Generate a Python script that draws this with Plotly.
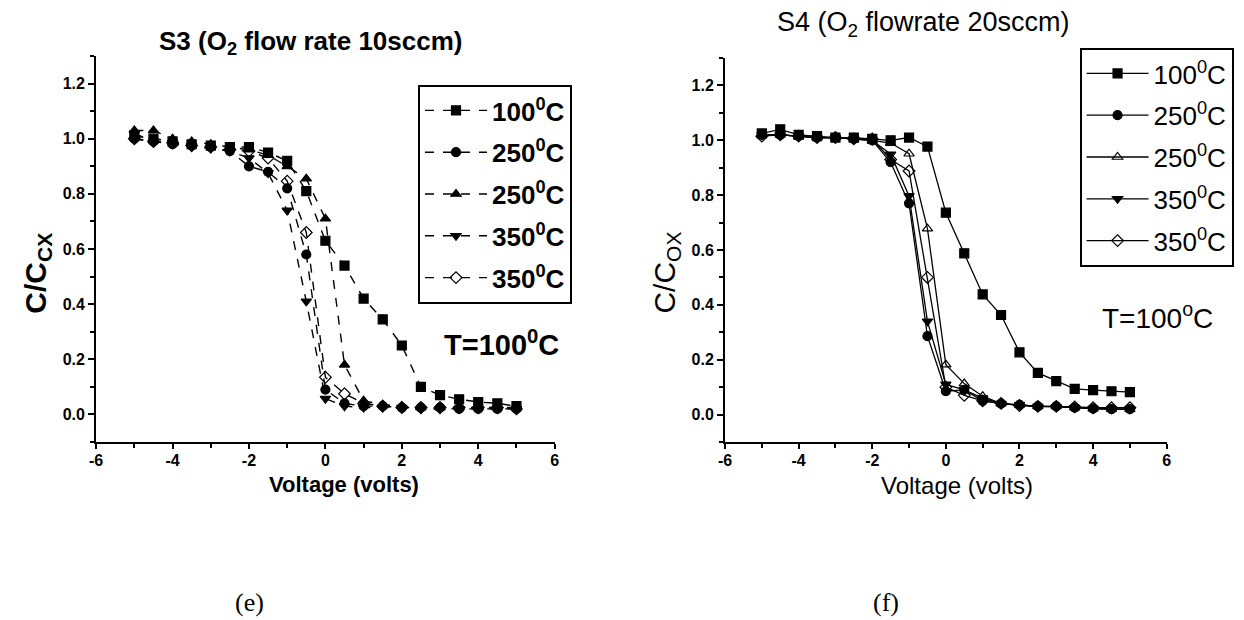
import plotly.graph_objects as go

voltage = [-5, -4.5, -4, -3.5, -3, -2.5, -2, -1.5, -1, -0.5, 0, 0.5, 1, 1.5, 2, 2.5, 3, 3.5, 4, 4.5, 5]

# Panel (e): S3, O2 flow rate 10 sccm
s3_100 = [1.01, 1.00, 0.99, 0.98, 0.975, 0.97, 0.97, 0.95, 0.92, 0.81, 0.63, 0.54, 0.42, 0.345, 0.25, 0.10, 0.07, 0.055, 0.045, 0.04, 0.03]
s3_250a = [1.00, 0.99, 0.98, 0.975, 0.97, 0.955, 0.90, 0.88, 0.82, 0.58, 0.09, 0.04, 0.03, 0.03, 0.025, 0.025, 0.025, 0.02, 0.02, 0.02, 0.02]
s3_250b = [1.03, 1.03, 1.00, 0.99, 0.98, 0.97, 0.96, 0.94, 0.90, 0.855, 0.71, 0.18, 0.05, 0.035, 0.03, 0.025, 0.025, 0.025, 0.025, 0.025, 0.025]
s3_350a = [1.02, 0.99, 0.98, 0.97, 0.965, 0.955, 0.93, 0.876, 0.74, 0.41, 0.057, 0.03, 0.025, 0.025, 0.025, 0.02, 0.02, 0.02, 0.02, 0.02, 0.02]
s3_350b = [1.00, 0.99, 0.985, 0.975, 0.97, 0.96, 0.955, 0.93, 0.846, 0.66, 0.135, 0.075, 0.04, 0.03, 0.025, 0.025, 0.025, 0.025, 0.025, 0.025, 0.02]

# Panel (f): S4, O2 flowrate 20 sccm
s4_100 = [1.025, 1.04, 1.02, 1.015, 1.01, 1.01, 1.005, 1.0, 1.01, 0.977, 0.736, 0.588, 0.438, 0.363, 0.227, 0.152, 0.122, 0.094, 0.089, 0.085, 0.082]
s4_250a = [1.02, 1.02, 1.015, 1.01, 1.01, 1.005, 1.0, 0.92, 0.77, 0.286, 0.085, 0.09, 0.05, 0.04, 0.035, 0.03, 0.03, 0.025, 0.022, 0.02, 0.02]
s4_250b = [1.02, 1.02, 1.015, 1.01, 1.01, 1.005, 1.0, 0.99, 0.951, 0.678, 0.182, 0.113, 0.067, 0.04, 0.035, 0.03, 0.03, 0.025, 0.022, 0.02, 0.02]
s4_350a = [1.02, 1.02, 1.015, 1.01, 1.01, 1.005, 1.0, 0.949, 0.797, 0.34, 0.11, 0.09, 0.06, 0.04, 0.035, 0.03, 0.028, 0.025, 0.022, 0.02, 0.02]
s4_350b = [1.015, 1.02, 1.015, 1.01, 1.01, 1.005, 1.005, 0.93, 0.888, 0.50, 0.10, 0.07, 0.05, 0.041, 0.033, 0.03, 0.03, 0.028, 0.025, 0.025, 0.025]

legend_names = ["100<sup>0</sup>C", "250<sup>0</sup>C", "250<sup>0</sup>C", "350<sup>0</sup>C", "350<sup>0</sup>C"]
x_ticks = [-6, -4, -2, 0, 2, 4, 6]
x_ticklabels = ["-6", "-4", "-2", "0", "2", "4", "6"]
y_ticks = [0, 0.2, 0.4, 0.6, 0.8, 1.0, 1.2]
y_ticklabels = ["0.0", "0.2", "0.4", "0.6", "0.8", "1.0", "1.2"]

left_series = [s3_100, s3_250a, s3_250b, s3_350a, s3_350b]
right_series = [s4_100, s4_250a, s4_250b, s4_350a, s4_350b]
left_symbols = ["square", "circle", "triangle-up", "triangle-down", "diamond-open"]
right_symbols = ["square", "circle", "triangle-up-open", "triangle-down", "diamond-open"]

W, H = 1244, 620
def px(x):
    return x / W
def py(y):
    return 1 - y / H

FONT = "Liberation Sans, Arial, sans-serif"
fig = go.Figure()

for i, (ys, sym, name) in enumerate(zip(left_series, left_symbols, legend_names)):
    fig.add_trace(go.Scatter(
        x=voltage, y=ys, name="<b>" + name + "</b>", mode="lines+markers",
        line=dict(color="black", width=1.4, dash="dash"),
        marker=dict(symbol=sym, size=9, color="black", line=dict(color="black", width=1.2)),
        xaxis="x", yaxis="y", legend="legend", legendgroup="L%d" % i,
    ))
for i, (ys, sym, name) in enumerate(zip(right_series, right_symbols, legend_names)):
    fig.add_trace(go.Scatter(
        x=voltage, y=ys, name=name, mode="lines+markers",
        line=dict(color="black", width=1.3),
        marker=dict(symbol=sym, size=9, color="black", line=dict(color="black", width=1.2)),
        xaxis="x2", yaxis="y2", legend="legend2", legendgroup="R%d" % i,
    ))

def xaxis(domain, anchor):
    return dict(domain=domain, anchor=anchor, range=[-6, 6], tickvals=x_ticks,
                ticktext=["<b>%s</b>" % t for t in x_ticklabels],
                showline=True, linecolor="black", linewidth=2, ticks="outside", ticklen=5,
                tickwidth=2, tickcolor="black", showgrid=False, zeroline=False,
                ticklabelstandoff=-2,
                minor=dict(dtick=1, tick0=0, ticks="outside", ticklen=4, tickwidth=1.5, tickcolor="black"),
                tickfont=dict(family=FONT, size=16, color="black"))

def yaxis(domain, anchor):
    return dict(domain=domain, anchor=anchor, range=[-0.1, 1.3], tickvals=y_ticks,
                ticktext=["<b>%s</b>" % t for t in y_ticklabels],
                showline=True, linecolor="black", linewidth=2, ticks="outside",
                ticklen=6, tickwidth=2, tickcolor="black", showgrid=False, zeroline=False,
                minor=dict(dtick=0.1, tick0=0, ticks="outside", ticklen=4, tickwidth=1.5, tickcolor="black"),
                tickfont=dict(family=FONT, size=16, color="black"))

fig.update_layout(
    width=W, height=H, margin=dict(l=0, r=0, t=0, b=0),
    paper_bgcolor="white", plot_bgcolor="white", showlegend=True,
    xaxis=xaxis([px(90), px(553)], "y"),
    yaxis=yaxis([py(442), py(56)], "x"),
    xaxis2=xaxis([px(725), px(1171)], "y2"),
    yaxis2=yaxis([py(442), py(58)], "x2"),
    legend=dict(x=px(415), y=py(85), xanchor="left", yanchor="top", bgcolor="white",
                bordercolor="black", borderwidth=2, itemwidth=62, tracegroupgap=5,
                font=dict(family=FONT, size=26, color="black")),
    legend2=dict(x=px(1083), y=py(48), xanchor="left", yanchor="top", bgcolor="white",
                 bordercolor="black", borderwidth=2, itemwidth=62, tracegroupgap=5,
                 font=dict(family=FONT, size=26, color="black")),
)

ann = [
    dict(text="<b>S3 (O<sub>2</sub> flow rate 10sccm)</b>", x=px(306), y=py(43), size=26),
    dict(text="S4 (O<sub>2</sub> flowrate 20sccm)", x=px(925), y=py(24), size=27),
    dict(text="<b>Voltage (volts)</b>", x=px(340), y=py(484), size=22),
    dict(text="Voltage (volts)", x=px(959), y=py(485), size=24),
    dict(text="<b>C/C<sub>CX</sub></b>", x=px(30), y=py(273), size=30, angle=-90),
    dict(text="C/C<sub>OX</sub>", x=px(665), y=py(273), size=30, angle=-90),
    dict(text="<b>T=100<sup>0</sup>C</b>", x=px(499), y=py(343), size=29),
    dict(text="T=100<sup>o</sup>C", x=px(1162), y=py(316), size=28),
]
for a in ann:
    fig.add_annotation(text=a["text"], x=a["x"], y=a["y"], xref="paper", yref="paper",
                       xanchor="center", yanchor="middle", showarrow=False,
                       textangle=a.get("angle", 0),
                       font=dict(family=FONT, size=a["size"], color="black"))

for t, x in [("(e)", 245), ("(f)", 888)]:
    fig.add_annotation(text=t, x=px(x), y=py(602), xref="paper", yref="paper", showarrow=False,
                       xanchor="center", yanchor="middle",
                       font=dict(family="Liberation Serif, Times New Roman, serif", size=26, color="black"))

fig.write_html("out.html")
